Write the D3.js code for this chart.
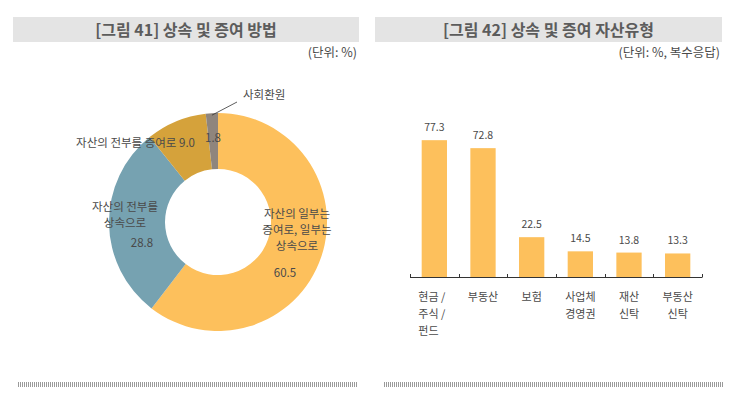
<!DOCTYPE html>
<html>
<head>
<meta charset="utf-8">
<script src="https://cdn.jsdelivr.net/npm/d3@7"></script>
<style>
  body { margin: 0; background: #fff; }
  svg text { font-family: "Noto Sans CJK KR", "Noto Sans", sans-serif; }
</style>
</head>
<body>
<svg id="chart" width="731" height="398"></svg>
<script>
// data - figure 41 (donut)
var pieLabels = ["자산의 일부는 증여로, 일부는 상속으로", "자산의 전부를 상속으로", "자산의 전부를 증여로", "사회환원"];
var pieValues = [60.5, 28.8, 9.0, 1.8];
var pieColors = ["#fdc05c", "#76a2b1", "#d5a23b", "#8f857d"];

// data - figure 42 (bars)
var barCategories = [["현금 /", "주식 /", "펀드"], ["부동산"], ["보험"], ["사업체", "경영권"], ["재산", "신탁"], ["부동산", "신탁"]];
var barValues = [77.3, 72.8, 22.5, 14.5, 13.8, 13.3];

var svg = d3.select("#chart");
var textColor = "#4a4a4a";

// pattern for the dotted rule at the bottom
var defs = svg.append("defs");
defs.append("pattern")
  .attr("id", "rule")
  .attr("width", 2).attr("height", 5)
  .attr("patternUnits", "userSpaceOnUse")
  .append("rect")
  .attr("width", 1).attr("height", 5)
  .attr("fill", "#9a9a9a");

function panelFrame(x0, x1, title, unit, r0, r1) {
  svg.append("rect")
    .attr("x", x0).attr("y", 17)
    .attr("width", x1 - x0).attr("height", 25)
    .attr("fill", "#e4e4e4");
  svg.append("text")
    .attr("x", (x0 + x1) / 2).attr("y", 35.5)
    .attr("text-anchor", "middle")
    .style("font-size", "16px")
    .style("font-weight", "bold")
    .attr("fill", "#5c5c5c")
    .text(title);
  svg.append("text")
    .attr("x", x1 - 2).attr("y", 56.5)
    .attr("text-anchor", "end")
    .style("font-size", "12.5px")
    .attr("fill", textColor)
    .text(unit);
  svg.append("rect")
    .attr("x", r0).attr("y", 382)
    .attr("width", r1 - r0).attr("height", 5)
    .attr("fill", "url(#rule)");
}

panelFrame(13, 359, "[그림 41] 상속 및 증여 방법", "(단위: %)", 18, 358);
panelFrame(375, 722, "[그림 42] 상속 및 증여 자산유형", "(단위: %, 복수응답)", 384, 724);

// ---------- donut ----------
var cx = 218, cy = 222;
var outerR = 109, innerR = 53;

var pie = d3.pie().sort(null).value(function(d) { return d; });
var arc = d3.arc().innerRadius(innerR).outerRadius(outerR);
var arcs = pie(pieValues);

var donut = svg.append("g")
  .attr("transform", "translate(" + cx + "," + cy + ")");

donut.selectAll("path")
  .data(arcs)
  .enter()
  .append("path")
  .attr("d", arc)
  .attr("fill", function(d, i) { return pieColors[i]; });

// label layout (offsets from donut centre)
var pieText = [
  { lines: ["자산의 일부는", "증여로, 일부는", "상속으로"], x: 79, y: -8, lh: 16, anchor: "middle",
    value: { x: 67, y: 51 } },
  { lines: ["자산의 전부를", "상속으로"], x: -93, y: -15, lh: 16, anchor: "middle",
    value: { x: -76, y: 21 } },
  { lines: [], x: 0, y: 0, lh: 0, anchor: "end", inline: { x: -23, y: -79 } },
  { lines: [], x: 0, y: 0, lh: 0, anchor: "middle", value: { x: -5, y: -84 } }
];

function fontStyle(sel) {
  return sel.style("font-size", "11.5px").attr("fill", textColor);
}

arcs.forEach(function(d, i) {
  var t = pieText[i];
  t.lines.forEach(function(line, j) {
    donut.append("text")
      .attr("x", t.x).attr("y", t.y + j * t.lh + 4)
      .attr("text-anchor", t.anchor)
      .call(fontStyle)
      .text(line);
  });
  if (t.value) {
    donut.append("text")
      .attr("x", t.value.x).attr("y", t.value.y + 4)
      .attr("text-anchor", "middle")
      .call(fontStyle)
      .text(d3.format(".1f")(d.value));
  }
  if (t.inline) {
    donut.append("text")
      .attr("x", t.inline.x).attr("y", t.inline.y + 4)
      .attr("text-anchor", "end")
      .call(fontStyle)
      .text(pieLabels[i] + " " + d3.format(".1f")(d.value));
  }
});

// leader line for the small slice
var small = arcs[3];
var midA = (small.startAngle + small.endAngle) / 2;
var p0 = [Math.sin(midA) * (outerR - 2), -Math.cos(midA) * (outerR - 2)];
var p1 = [19, -120];
donut.append("line")
  .attr("x1", p0[0]).attr("y1", p0[1])
  .attr("x2", p1[0]).attr("y2", p1[1])
  .attr("stroke", "#333")
  .attr("stroke-width", 0.8);
donut.append("text")
  .attr("x", p1[0] + 6).attr("y", p1[1] - 3)
  .call(fontStyle)
  .text(pieLabels[3]);

// ---------- bars ----------
var bx0 = 410, bx1 = 702, baseY = 277;

var x = d3.scaleBand()
  .domain(d3.range(barValues.length))
  .range([bx0, bx1])
  .paddingInner(0.48)
  .paddingOuter(0.24);

var y = d3.scaleLinear()
  .domain([0, 100])
  .range([baseY, baseY - 177]);

var step = x.step();

svg.append("g")
  .selectAll("rect")
  .data(barValues)
  .enter()
  .append("rect")
  .attr("x", function(d, i) { return x(i); })
  .attr("y", function(d) { return y(d); })
  .attr("width", x.bandwidth())
  .attr("height", function(d) { return baseY - y(d); })
  .attr("fill", "#fdc05c");

svg.append("g")
  .selectAll("text")
  .data(barValues)
  .enter()
  .append("text")
  .attr("x", function(d, i) { return x(i) + x.bandwidth() / 2; })
  .attr("y", function(d) { return y(d) - 9; })
  .attr("text-anchor", "middle")
  .style("font-size", "10.5px")
  .attr("fill", textColor)
  .text(function(d) { return d3.format(".1f")(d); });

// axis line with ticks between groups
var axis = svg.append("g").attr("stroke", "#333").attr("stroke-width", 1);
axis.append("line")
  .attr("x1", bx0).attr("x2", bx1)
  .attr("y1", baseY + 0.5).attr("y2", baseY + 0.5);
d3.range(barValues.length + 1).forEach(function(i) {
  var tx = Math.round(bx0 + i * step) + 0.5;
  axis.append("line")
    .attr("x1", tx).attr("x2", tx)
    .attr("y1", baseY - 3).attr("y2", baseY + 0.5);
});

// category labels
barCategories.forEach(function(lines, i) {
  var c = x(i) + x.bandwidth() / 2;
  lines.forEach(function(line, j) {
    svg.append("text")
      .attr("x", i === 0 ? c - 16 : c)
      .attr("y", 301 + j * 17)
      .attr("text-anchor", i === 0 ? "start" : "middle")
      .style("font-size", "11px")
      .attr("fill", textColor)
      .text(line);
  });
});
</script>
</body>
</html>
